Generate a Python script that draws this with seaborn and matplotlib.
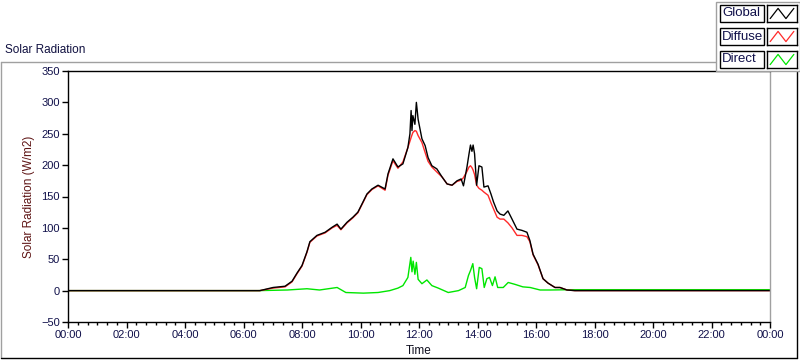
import matplotlib
matplotlib.use('Agg')
import matplotlib.pyplot as plt
from matplotlib.patches import Rectangle
from matplotlib.ticker import MultipleLocator, FuncFormatter
import seaborn as sns
import pandas as pd
import numpy as np

# Datos (hora del dia, W/m2)
horas_global = [0.0, 6.56, 7.01, 7.42, 7.66, 7.83, 8.00, 8.17, 8.27, 8.51, 8.79, 9.03, 9.20, 9.33,
                9.54, 9.74, 9.91, 10.05, 10.22, 10.39, 10.60, 10.84, 10.94, 11.11, 11.28, 11.45,
                11.62, 11.69, 11.73, 11.76, 11.79, 11.86, 11.91, 11.97, 12.10, 12.21, 12.31, 12.44,
                12.61, 12.79, 12.96, 13.13, 13.30, 13.44, 13.52, 13.64, 13.71, 13.76, 13.81, 13.85,
                13.90, 13.97, 14.05, 14.15, 14.22, 14.36, 14.46, 14.55, 14.67, 14.77, 14.90, 15.04,
                15.18, 15.35, 15.52, 15.69, 15.79, 15.90, 16.07, 16.24, 16.41, 16.65, 16.82, 17.06,
                17.33, 24.0]
valores_global = [0, 0, 5, 7, 15, 28, 40, 62, 78, 88, 93, 101, 106, 98,
                  109, 117, 125, 138, 154, 162, 168, 162, 186, 210, 197, 202,
                  228, 250, 287, 255, 279, 265, 300, 273, 242, 231, 212, 199,
                  194, 181, 170, 168, 175, 178, 167, 197, 218, 232, 222, 232,
                  218, 168, 199, 197, 165, 167, 154, 141, 127, 122, 120, 127,
                  114, 98, 96, 93, 80, 58, 42, 19, 12, 5, 5, 1,
                  0, 0]
valores_diffuse = [0, 0, 4, 6, 14, 27, 39, 61, 77, 87, 92, 100, 104, 97,
                   108, 116, 124, 137, 153, 161, 167, 160, 184, 207, 195, 205,
                   228, 238, 244, 248, 252, 255, 254, 247, 236, 220, 206, 197,
                   189, 181, 170, 168, 174, 176, 180, 190, 197, 199, 196, 192,
                   185, 168, 163, 160, 157, 152, 140, 130, 117, 114, 114, 108,
                   100, 88, 88, 86, 78, 57, 41, 19, 12, 5, 5, 1,
                   0, 0]

horas_direct = [0.0, 6.5, 7.5, 8.17, 8.6, 9.20, 9.5, 10.1, 10.6, 11.0, 11.28, 11.45, 11.62, 11.72,
                11.76, 11.80, 11.86, 11.91, 11.97, 12.10, 12.27, 12.44, 12.66, 13.0, 13.35, 13.58,
                13.69, 13.76, 13.84, 13.90, 13.97, 14.06, 14.15, 14.23, 14.32, 14.41, 14.51, 14.60,
                14.69, 14.88, 15.05, 15.28, 15.55, 15.8, 16.14, 16.5, 17.2, 24.0]
valores_direct = [0, 0, 1, 3, 1, 5, -3, -4, -3, 0, 4, 8, 21, 53,
                  30, 47, 26, 45, 18, 11, 17, 8, 4, -3, 0, 5,
                  24, 32, 43, 21, 3, 37, 35, 5, 19, 21, 8, 22,
                  5, 5, 13, 10, 6, 5, 1, 1, 1.5, 1.5]

series = ['Global', 'Diffuse', 'Direct']
colores = {'Global': '#000000', 'Diffuse': '#ff2a2a', 'Direct': '#00e600'}

datos = pd.concat([
    pd.DataFrame({'hora': horas_direct, 'valor': valores_direct, 'serie': 'Direct'}),
    pd.DataFrame({'hora': horas_global, 'valor': valores_diffuse, 'serie': 'Diffuse'}),
    pd.DataFrame({'hora': horas_global, 'valor': valores_global, 'serie': 'Global'}),
], ignore_index=True)

sns.set_style('white')
plt.rcParams['font.family'] = ['Liberation Sans', 'DejaVu Sans']
plt.rcParams['font.size'] = 8

fig = plt.figure(figsize=(8, 3.61), dpi=100)
W, H = 800, 361

def fx(px):
    return px / W

def fy(py):
    return 1 - py / H

# Panel exterior (efecto hundido)
fig.add_artist(plt.Line2D([fx(1), fx(797)], [fy(62), fy(62)], color='#a0a0a0', lw=1))
fig.add_artist(plt.Line2D([fx(1), fx(1)], [fy(62), fy(358)], color='#a0a0a0', lw=1))
fig.add_artist(plt.Line2D([fx(1), fx(797)], [fy(358), fy(358)], color='black', lw=1))
fig.add_artist(plt.Line2D([fx(797), fx(797)], [fy(62), fy(358)], color='black', lw=1))
fig.text(fx(5), fy(50), 'Solar Radiation', fontsize=8.5, color='#101040', va='center')

ax = fig.add_axes([fx(68), fy(322), fx(770) - fx(68), fy(71) - fy(322)])
sns.lineplot(data=datos, x='hora', y='valor', hue='serie', hue_order=['Direct', 'Diffuse', 'Global'],
             palette=colores, estimator=None, sort=False, legend=False, linewidth=1, ax=ax)

ax.set_xlim(0, 24)
ax.set_ylim(-50, 350)
ax.yaxis.set_major_locator(MultipleLocator(50))
ax.xaxis.set_major_locator(MultipleLocator(2))
ax.xaxis.set_minor_locator(MultipleLocator(1 / 3))
ax.xaxis.set_major_formatter(FuncFormatter(lambda v, p: f'{int(round(v)) % 24:02d}:00'))
ax.tick_params(axis='both', which='major', direction='out', length=4, width=1,
               color='black', labelcolor='#10104a', labelsize=8, pad=2)
ax.tick_params(axis='x', which='minor', direction='out', length=2.2, width=1, color='black')
ax.tick_params(bottom=True, left=True, which='both')
ax.tick_params(axis='x', which='minor', bottom=True)

for lado in ['left', 'bottom', 'top']:
    ax.spines[lado].set_color('black')
    ax.spines[lado].set_linewidth(1)
ax.spines['right'].set_color('#a0a0a0')
ax.spines['right'].set_linewidth(1)

ax.set_xlabel('Time', fontsize=8.5, color='#101020', labelpad=3)
ax.set_ylabel('Solar Radiation (W/m2)', fontsize=8.5, color='#5e1414', labelpad=4)

# Leyenda estilo panel
fig.add_artist(Rectangle((fx(716), fy(71)), fx(84), fy(2) - fy(71), transform=fig.transFigure,
                         facecolor='white', edgecolor='#a0a0a0', lw=1, zorder=5))
filas = [13.5, 36.5, 59.5]
for nombre, yc in zip(series, filas):
    fig.add_artist(Rectangle((fx(720), fy(yc + 8.5)), fx(44), fy(yc - 8.5) - fy(yc + 8.5),
                             transform=fig.transFigure, facecolor='white', edgecolor='black',
                             lw=1, zorder=6))
    fig.text(fx(722), fy(yc), nombre, fontsize=9.5, color='#10104a', va='center', zorder=7)
    sw = fig.add_axes([fx(767), fy(yc + 8.5), fx(30), fy(yc - 8.5) - fy(yc + 8.5)], zorder=7)
    sw.plot([0, 1, 2, 3], [0.2, 0.8, 0.2, 0.8], color=colores[nombre], lw=0.9)
    sw.set_xlim(-0.4, 3.4)
    sw.set_ylim(0, 1)
    sw.set_xticks([])
    sw.set_yticks([])
    for s in sw.spines.values():
        s.set_color('black')
        s.set_linewidth(1)

plt.savefig('out.png', dpi=100)
